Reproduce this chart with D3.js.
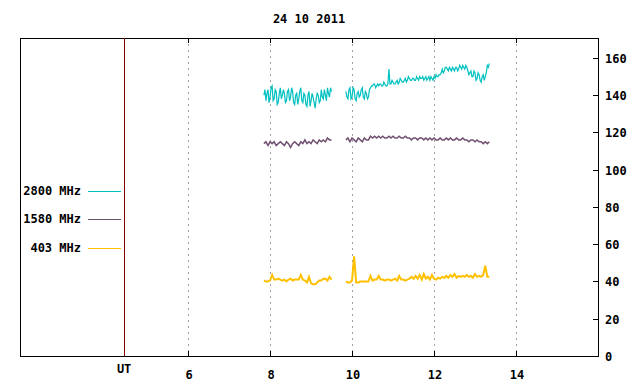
<!DOCTYPE html>
<html lang="en">
<head>
<meta charset="UTF-8">
<title>24 10 2011</title>
<script src="https://d3js.org/d3.v7.min.js"></script>
<style>
  body { margin: 0; background: #fff; }
  text { font-family: "DejaVu Sans Mono", monospace; font-weight: bold; font-size: 12px; fill: #000; }
</style>
</head>
<body>
<svg id="chart" width="640" height="384"></svg>
<script>
// chart values
var title = "24 10 2011";
var xTicks = [6, 8, 10, 12, 14];
var yTicks = [0, 20, 40, 60, 80, 100, 120, 140, 160];
var seriesNames = ["2800 MHz", "1580 MHz", "403 MHz"];
var seriesColors = ["#00c0c0", "#705070", "#ffc000"];

// recording blocks: start hour (UT) and sampling step in hours
var fineBlocks = [{ start: 7.85, step: 0.025 }, { start: 9.85, step: 0.025 }];
var coarseBlocks = [{ start: 7.85, step: 0.05 }, { start: 9.85, step: 0.05 }];

var f2800a = [140,143,137,141,143,136,139,144,145,137,138,143,142,135,136,141,144,138,
              140,143,141,136,137,142,143,137,139,144,142,136,135,140,141,135,138,142,
              144,137,136,141,140,135,134,140,142,134,137,141,139,136,133,138,141,140,
              136,137,143,139,138,143,140,137,144,141,139,144,142];
var f2800b = [142,139,138,143,144,138,139,144,143,138,137,141,142,139,140,143,144,139,
              138,142,141,138,139,143,144,145,145,146,146,144,145,146,145,146,146,145,
              145,147,146,145,145,146,154,146,146,148,147,146,146,147,148,146,147,149,
              148,147,147,148,149,147,148,150,149,148,148,149,149,148,148,150,149,148,
              150,149,149,150,148,149,150,148,149,150,148,150,149,148,150,149,151,150,
              150,151,151,152,154,152,153,155,155,154,153,155,154,153,155,154,153,155,
              155,153,154,156,155,154,156,155,154,156,155,153,151,152,153,150,150,153,
              152,148,149,152,151,148,147,150,151,148,150,152,156,155,157];

var f1580a = [114,115,113,115,114,115,113,114,115,114,113,115,114,112,114,115,114,113,
              115,114,116,114,115,114,116,115,114,116,115,116,115,117,116,116];
var f1580b = [116,117,115,117,116,115,117,116,115,117,116,116,118,117,118,117,118,117,
              118,117,117,118,117,118,117,117,118,117,117,118,117,117,116,117,117,116,
              117,117,116,117,116,117,116,117,116,116,117,116,116,117,116,117,116,116,
              117,116,116,117,116,116,115,116,116,115,116,115,115,114,115,114,115];

var f403a = [40.5,40,40,40.5,43.5,41,41,41.5,41,40.5,41,40,41,41.5,40.5,41,41,41,43.5,
             41,40.5,39.5,42.5,39,38.5,38.5,39.5,40.5,40.5,41.5,41.5,40.5,42.5,41];
var f403b = [40,39.5,39.5,40.5,53.5,39.5,39.5,40,40,40,40,40,43,40.5,41,41,43,41,41,40.5,
             41,41,40.5,41,41.5,40.5,43,41,41,40.5,41,41.5,42.5,41.5,43,41.5,43.5,41,44,
             41.5,42.5,41,43.5,41.5,41,42,41.5,42.5,42,43,42,43.5,42.5,44,42,43,42.5,43,
             42.5,43.5,42.5,43,42,44,42.5,43,42.5,43.5,48.5,42.5,42.5];

var seriesData = [[f2800a, f2800b], [f1580a, f1580b], [f403a, f403b]];
var seriesBlocks = [fineBlocks, coarseBlocks, coarseBlocks];
var seriesWidths = [1.2, 1.5, 2];

var svg = d3.select("#chart");
var pLeft = 20, pRight = 598, pTop = 38, pBottom = 356;

var x = d3.scaleLinear().domain([1.9, 16]).range([pLeft, pRight]);
var y = d3.scaleLinear().domain([0, 170.7]).range([pBottom, pTop]);
var utHour = 4.44;

// grid
svg.append("g")
  .selectAll("line")
  .data(xTicks)
  .enter().append("line")
  .attr("x1", d => Math.round(x(d)) + 0.5).attr("x2", d => Math.round(x(d)) + 0.5)
  .attr("y1", pTop).attr("y2", pBottom)
  .attr("stroke", "#a0a0a0")
  .attr("stroke-dasharray", "2,4");

// series
var line = d3.line()
  .x(d => x(d[0]))
  .y(d => y(d[1]));

seriesData.forEach(function(parts, si) {
  parts.forEach(function(vals, bi) {
    var b = seriesBlocks[si][bi];
    var pts = vals.map((v, i) => [b.start + i * b.step, v]);
    svg.append("path")
      .attr("d", line(pts))
      .attr("fill", "none")
      .attr("stroke", seriesColors[si])
      .attr("stroke-width", seriesWidths[si]);
  });
});

// frame
svg.append("rect")
  .attr("x", pLeft + 0.5).attr("y", pTop + 0.5)
  .attr("width", pRight - pLeft).attr("height", pBottom - pTop)
  .attr("fill", "none").attr("stroke", "#000");

// UT separator
svg.append("line")
  .attr("x1", Math.round(x(utHour)) + 0.5).attr("x2", Math.round(x(utHour)) + 0.5)
  .attr("y1", pTop).attr("y2", pBottom)
  .attr("stroke", "#800000");

// x ticks (inside, bottom and top)
var xt = svg.append("g");
xTicks.forEach(function(d) {
  var px = Math.round(x(d)) + 0.5;
  xt.append("line").attr("x1", px).attr("x2", px)
    .attr("y1", pBottom).attr("y2", pBottom - 5).attr("stroke", "#000");
  xt.append("line").attr("x1", px).attr("x2", px)
    .attr("y1", pTop).attr("y2", pTop + 5).attr("stroke", "#000");
  xt.append("text").attr("x", x(d) + 1).attr("y", 379)
    .attr("text-anchor", "middle").text(d);
});
xt.append("text").attr("x", x(utHour)).attr("y", 373)
  .attr("text-anchor", "middle").text("UT");

// right y axis
var yt = svg.append("g");
yTicks.forEach(function(d) {
  var py = Math.round(y(d)) + 0.5;
  yt.append("line").attr("x1", pRight - 5).attr("x2", pRight)
    .attr("y1", py).attr("y2", py)
    .attr("stroke", "#000");
  yt.append("text").attr("x", 605).attr("y", y(d) + 5).text(d);
});

// title
svg.append("text")
  .attr("x", (pLeft + pRight) / 2).attr("y", 23)
  .attr("text-anchor", "middle").text(title);

// legend
var legendY = [191, 219, 248];
seriesNames.forEach(function(n, i) {
  svg.append("text").attr("x", 81).attr("y", legendY[i] + 4)
    .attr("text-anchor", "end").text(n);
  svg.append("line").attr("x1", 88).attr("x2", 121)
    .attr("y1", legendY[i] + 0.5).attr("y2", legendY[i] + 0.5)
    .attr("stroke", seriesColors[i])
    .attr("shape-rendering", "crispEdges");
});
</script>
</body>
</html>
